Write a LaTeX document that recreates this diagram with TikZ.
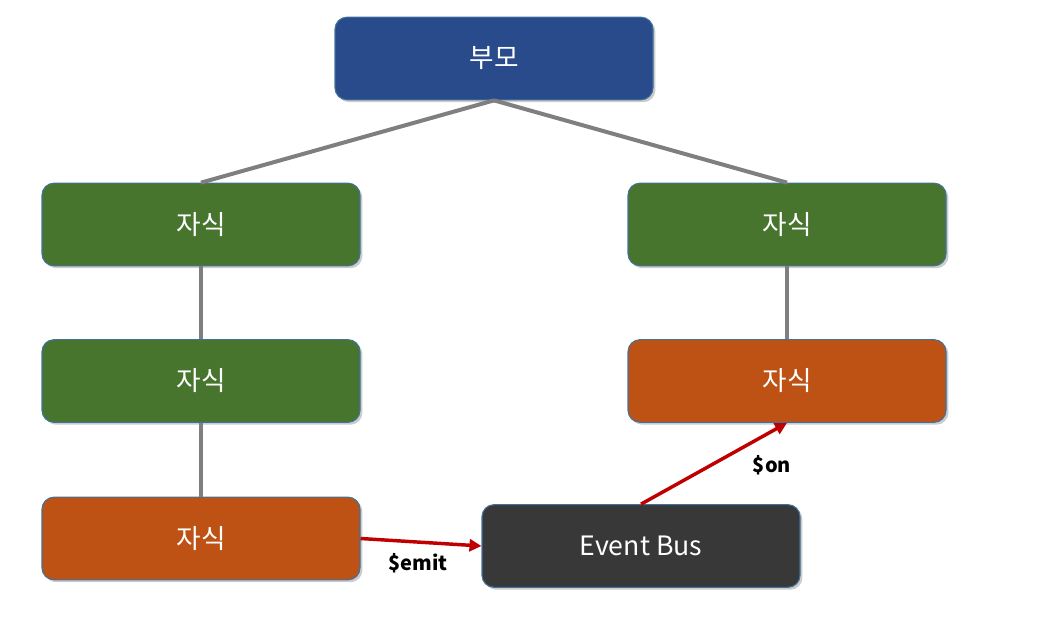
\documentclass[tikz,border=0pt]{standalone}
\usepackage{fontspec}
\setmainfont{Noto Sans CJK KR}
\newfontfamily\krfont{Noto Sans CJK KR}
\usetikzlibrary{shadows,arrows.meta}
\definecolor{cblue}{HTML}{2A4B8B}
\definecolor{cgreen}{HTML}{48752E}
\definecolor{corange}{HTML}{BD5214}
\definecolor{cdark}{HTML}{383838}
\definecolor{cborder}{HTML}{41719C}
\definecolor{cline}{HTML}{7F7F7F}
\definecolor{cred}{HTML}{C00000}
\tikzset{
  box/.style={rounded corners=9pt, draw=cborder, line width=0.8pt,
    minimum width=238.5pt, minimum height=62pt, inner sep=0pt,
    text=white, font=\krfont\fontsize{20}{24}\selectfont,
    drop shadow={shadow xshift=1.8pt, shadow yshift=-1.8pt, opacity=0.4}},
  tree/.style={draw=cline, line width=3pt},
  evarrow/.style={draw=cred, line width=2.6pt, -{Triangle[length=9pt,width=9pt]}},
  lbl/.style={font=\krfont\bfseries\fontsize{15}{18}\selectfont, text=black}
}
\begin{document}
\begin{tikzpicture}[x=0.75pt,y=-0.75pt]
\useasboundingbox (0,0) rectangle (1056,620);
\node[box, fill=cblue] (p) at (494,58.5) {부모};
\node[box, fill=cgreen] (l1) at (201,224.5) {자식};
\node[box, fill=cgreen] (r1) at (787,224.5) {자식};
\node[box, fill=cgreen] (l2) at (201,381) {자식};
\node[box, fill=corange] (r2) at (787,381) {자식};
\node[box, fill=corange] (l3) at (201,538.5) {자식};
\node[box, fill=cdark] (bus) at (641,546) {Event Bus};
\draw[tree] (p.south) -- (l1.north);
\draw[tree] (p.south) -- (r1.north);
\draw[tree] (l1.south) -- (l2.north);
\draw[tree] (l2.south) -- (l3.north);
\draw[tree] (r1.south) -- (r2.north);
\draw[evarrow] (l3.east) -- (bus.west);
\draw[evarrow] (bus.north) -- (r2.south);
\node[lbl] (emit) at (418,563) {\$emit};
\node[lbl] (on) at (772,465) {\$on};
\end{tikzpicture}
\end{document}
